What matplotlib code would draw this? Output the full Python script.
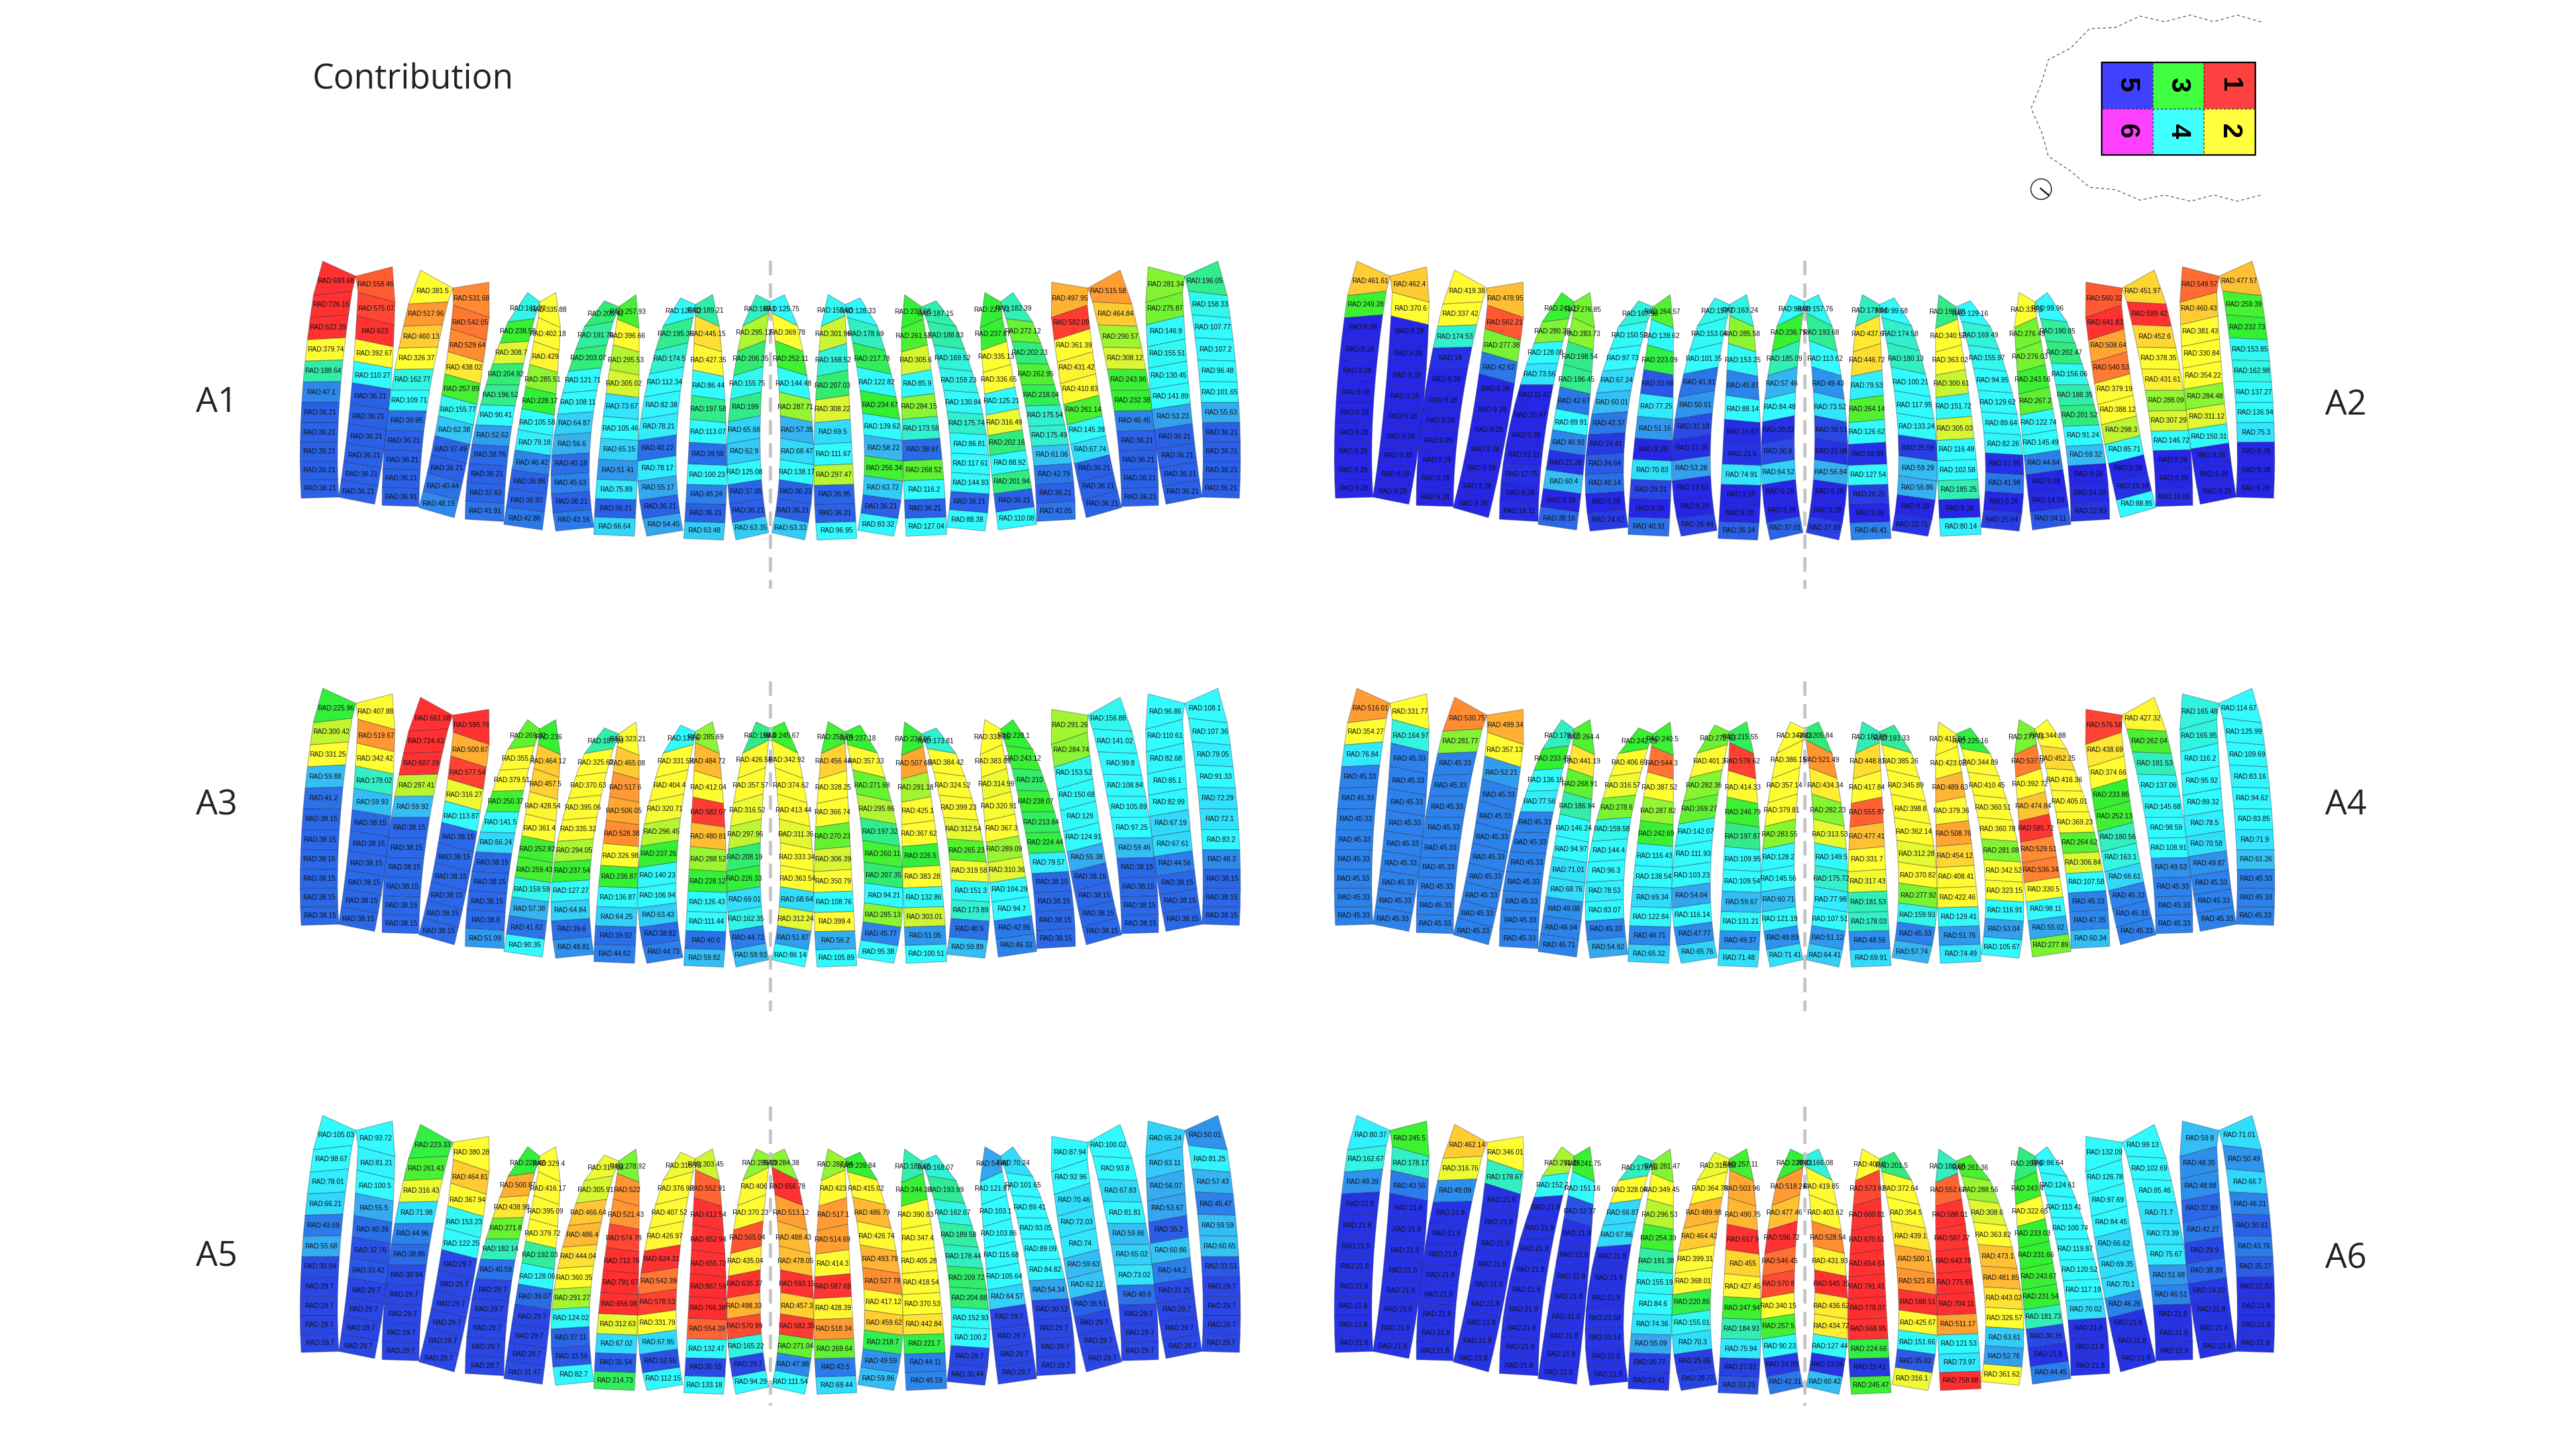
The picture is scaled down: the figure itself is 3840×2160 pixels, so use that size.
import numpy as np
import matplotlib
matplotlib.use("Agg")
import matplotlib.pyplot as plt
from matplotlib.collections import PolyCollection
from matplotlib.colors import LinearSegmentedColormap, Normalize
from matplotlib.patches import Circle, Rectangle

# contact values per tooth, top row to bottom row, tooth 1 to 22
A1 = [
    [693.68, 726.16, 622.39, 379.74, 188.64, 47.1] + [36.21] * 5,
    [558.46, 575.07, 623, 392.67, 110.27] + [36.21] * 6,
    [381.5, 517.96, 460.13, 326.37, 162.77, 109.71, 39.95, 36.21, 36.21, 36.21, 36.91],
    [531.68, 542.05, 529.64, 438.02, 257.89, 155.77, 62.38, 37.49, 36.21, 40.44, 48.19],
    [161.03, 238.58, 308.7, 204.92, 196.52, 90.41, 52.62, 38.76, 36.21, 37.62, 41.91],
    [335.88, 402.18, 429, 285.51, 228.17, 105.58, 79.18, 46.42, 36.86, 36.92, 42.86],
    [206.42, 191.79, 203.07, 121.71, 108.11, 64.87, 56.6, 40.18, 45.63, 36.21, 43.16],
    [257.93, 396.66, 295.53, 305.02, 73.67, 105.46, 65.15, 51.41, 75.89, 36.21, 66.64],
    [126.62, 195.36, 174.5, 112.34, 82.38, 78.21, 40.22, 78.17, 55.17, 36.21, 54.45],
    [189.21, 445.15, 427.35, 86.44, 197.58, 113.07, 39.58, 100.23, 45.24, 36.21, 63.48],
    [180.1, 295.12, 206.35, 155.75, 199, 65.68, 62.9, 125.08, 37.05, 36.21, 63.35],
    [125.75, 369.78, 252.11, 144.48, 287.71, 57.35, 68.47, 138.17, 36.21, 36.21, 63.33],
    [155.93, 301.96, 168.52, 207.03, 308.22, 69.5, 111.67, 297.47, 36.95, 36.21, 96.95],
    [128.33, 178.69, 217.78, 122.82, 234.67, 139.62, 58.22, 256.34, 63.72, 36.21, 83.32],
    [233.68, 261.51, 305.6, 85.9, 284.15, 173.58, 38.97, 268.52, 116.2, 36.21, 127.04],
    [187.15, 188.83, 169.52, 159.23, 130.84, 175.74, 86.81, 117.61, 144.93, 36.21, 88.38],
    [227.71, 237.87, 335.13, 336.65, 125.21, 316.49, 202.16, 88.92, 201.94, 36.21, 110.08],
    [182.39, 272.12, 202.23, 262.95, 218.04, 175.54, 175.49, 61.06, 42.79, 36.21, 42.05],
    [497.95, 582.09, 361.39, 431.42, 410.83, 261.14, 145.39, 67.74, 36.21, 36.21, 36.21],
    [515.58, 464.84, 290.57, 308.12, 243.96, 232.38, 46.45, 36.21, 36.21, 36.21, 36.21],
    [281.34, 275.87, 146.9, 155.51, 130.45, 141.89, 53.23, 36.21, 36.21, 36.21, 36.21],
    [196.05, 158.33, 107.77, 107.2, 96.48, 101.65, 55.63, 36.21, 36.21, 36.21, 36.21],
]
A2 = [
    [461.61, 249.28] + [9.28] * 9,
    [462.4, 370.6] + [9.28] * 9,
    [419.38, 337.42, 174.53, 19] + [9.28] * 7,
    [478.95, 562.21, 277.38, 42.62] + [9.28] * 7,
    [241.17, 280.38, 128.08, 73.56, 11.42, 10.47, 9.28, 12.11, 17.75, 9.28, 16.11],
    [276.85, 283.73, 198.54, 196.45, 42.67, 89.91, 46.92, 21.28, 60.4, 9.28, 38.16],
    [167.98, 150.52, 97.73, 67.24, 60.01, 42.37, 24.41, 34.64, 40.14, 9.28, 24.62],
    [264.57, 139.62, 223.09, 33.68, 77.25, 51.16, 9.28, 70.83, 29.21, 9.28, 40.91],
    [157.7, 153.04, 101.35, 41.91, 50.61, 31.18, 17.35, 53.28, 13.63, 9.28, 26.44],
    [163.24, 285.58, 153.25, 45.87, 88.14, 16.63, 21.6, 74.91, 9.28, 9.28, 36.24],
    [98.98, 236.75, 185.09, 57.46, 84.48, 20.32, 30.8, 64.52, 9.28, 9.28, 37.01],
    [157.76, 193.68, 113.62, 49.43, 73.52, 30.51, 21.08, 56.84, 9.28, 9.28, 27.89],
    [179.04, 437.6, 446.72, 79.53, 264.14, 126.62, 18.99, 127.54, 26.25, 9.28, 46.41],
    [99.68, 174.58, 180.13, 100.21, 117.95, 133.24, 25.59, 59.29, 56.86, 9.28, 22.71],
    [198.88, 340.52, 363.02, 300.61, 151.72, 305.03, 116.49, 102.58, 185.25, 9.28, 80.14],
    [129.16, 169.49, 155.97, 94.95, 129.62, 89.64, 82.26, 17.95, 41.98, 9.28, 25.94],
    [335.3, 276.49, 276.03, 243.56, 267.2, 122.74, 145.49, 44.64, 9.28, 14.59, 34.11],
    [99.96, 190.85, 202.47, 156.06, 188.35, 201.52, 91.24, 59.32, 9.28, 14.23, 22.83],
    [560.32, 641.83, 508.64, 540.53, 379.19, 388.12, 298.3, 85.71, 9.28, 19.18, 88.85],
    [451.97, 599.42, 452.6, 378.35, 431.61, 288.09, 307.29, 146.72, 9.28, 9.28, 18.05],
    [549.57, 460.43, 381.43, 330.84, 354.22, 284.48, 311.12, 150.31, 9.28, 9.28, 9.28],
    [477.57, 259.39, 232.73, 153.85, 162.98, 137.27, 136.94, 75.3, 9.28, 9.28, 9.28],
]
A3 = [
    [225.96, 300.42, 331.25, 59.88, 41.2] + [38.15] * 6,
    [407.88, 519.67, 342.42, 178.02, 59.93] + [38.15] * 6,
    [661.08, 724.43, 607.29, 297.41, 59.92] + [38.15] * 6,
    [595.76, 500.87, 577.54, 316.27, 113.87] + [38.15] * 6,
    [269.42, 355.3, 379.51, 250.37, 141.5, 66.24, 38.15, 38.15, 38.15, 38.8, 51.09],
    [236, 464.12, 457.5, 428.54, 361.4, 252.82, 259.43, 159.59, 57.38, 41.62, 90.35],
    [187.69, 325.67, 370.63, 395.06, 335.32, 294.05, 237.54, 127.27, 64.84, 39.6, 49.81],
    [323.21, 465.08, 517.6, 506.05, 528.38, 326.98, 236.87, 136.87, 64.25, 39.92, 44.62],
    [139.6, 331.53, 404.4, 320.71, 296.45, 237.26, 140.23, 106.94, 63.43, 38.82, 44.73],
    [285.69, 484.72, 412.04, 582.07, 480.81, 288.52, 228.12, 126.43, 111.44, 40.6, 59.82],
    [198.4, 426.58, 357.57, 316.52, 297.96, 208.19, 226.33, 69.01, 162.35, 44.72, 59.93],
    [245.67, 342.92, 374.62, 413.44, 311.36, 333.34, 363.54, 68.64, 312.24, 51.87, 86.14],
    [255.74, 456.44, 328.25, 366.74, 270.23, 306.39, 350.79, 108.76, 399.4, 56.2, 105.89],
    [237.18, 357.33, 271.68, 295.86, 197.32, 260.11, 207.35, 94.21, 285.13, 45.77, 95.38],
    [234.96, 507.69, 291.18, 425.1, 367.62, 226.5, 383.28, 132.86, 303.01, 51.05, 100.51],
    [173.81, 384.42, 324.52, 399.23, 312.54, 265.23, 319.58, 151.3, 173.89, 40.5, 59.89],
    [333.25, 383.09, 314.99, 320.91, 367.3, 289.09, 310.36, 104.29, 94.7, 42.86, 46.32],
    [228.1, 243.12, 210, 238.07, 213.84, 224.44, 79.57, 38.15, 38.15, 38.15, 38.15],
    [291.26, 284.74, 153.52, 150.68, 129, 124.91, 55.38, 38.15, 38.15, 38.15, 38.15],
    [156.88, 141.02, 99.8, 108.84, 105.89, 97.25, 59.46, 38.15, 38.15, 38.15, 38.15],
    [96.86, 110.61, 82.68, 85.1, 82.99, 67.19, 67.61, 44.56, 38.15, 38.15, 38.15],
    [108.1, 107.36, 79.05, 91.33, 72.29, 72.1, 83.2, 48.3, 38.15, 38.15, 38.15],
]
A4 = [
    [516.01, 354.27, 76.84] + [45.33] * 8,
    [331.77, 164.97] + [45.33] * 9,
    [530.75, 281.77] + [45.33] * 9,
    [499.34, 357.13, 52.21] + [45.33] * 8,
    [179.77, 233.49, 136.18, 77.56] + [45.33] * 7,
    [264.4, 441.19, 268.91, 186.94, 146.24, 94.97, 71.01, 68.76, 49.08, 46.04, 45.71],
    [242.29, 406.69, 316.57, 278.6, 159.58, 144.4, 96.3, 78.53, 83.07, 45.33, 54.92],
    [240.5, 544.3, 387.52, 287.82, 242.69, 116.43, 138.54, 69.34, 122.84, 46.71, 65.32],
    [272.63, 401.3, 282.36, 269.27, 142.07, 111.93, 103.23, 54.04, 116.14, 47.77, 65.76],
    [215.55, 578.62, 414.33, 246.79, 197.87, 109.95, 109.54, 59.67, 131.21, 49.37, 71.48],
    [342.83, 386.15, 357.14, 379.81, 283.55, 128.2, 145.56, 60.71, 121.19, 49.89, 71.41],
    [205.84, 521.49, 434.34, 282.23, 313.53, 149.5, 175.72, 77.98, 107.51, 51.12, 64.41],
    [182.89, 448.81, 417.84, 555.87, 477.41, 331.7, 317.43, 181.53, 178.03, 48.56, 69.91],
    [193.33, 385.26, 345.89, 398.8, 362.14, 312.28, 370.82, 277.92, 159.93, 45.33, 57.74],
    [415.64, 423.02, 489.63, 379.36, 508.76, 454.12, 408.41, 422.46, 129.41, 51.76, 74.49],
    [225.16, 344.89, 410.45, 360.51, 360.78, 281.08, 342.52, 323.15, 116.91, 53.04, 105.67],
    [277.75, 537.9, 392.72, 474.84, 585.72, 529.51, 536.34, 330.5, 98.11, 55.02, 277.89],
    [344.88, 452.25, 416.36, 405.01, 369.23, 264.62, 306.84, 107.58, 45.33, 47.35, 60.34],
    [576.58, 438.69, 374.66, 233.86, 252.13, 180.56, 163.1, 66.61, 45.33, 45.33, 45.33],
    [427.32, 262.04, 181.53, 137.06, 145.68, 98.59, 108.91, 49.53, 45.33, 45.33, 45.33],
    [165.48, 165.95, 116.2, 95.92, 89.32, 78.5, 70.58, 49.87, 45.33, 45.33, 45.33],
    [114.67, 125.99, 109.69, 83.16, 94.62, 83.85, 71.9, 61.26, 45.33, 45.33, 45.33],
]
A5 = [
    [105.03, 98.67, 78.01, 66.21, 43.69, 55.68, 30.94, 29.7, 29.7, 29.7, 29.7],
    [93.72, 81.21, 100.5, 55.5, 40.39, 32.76, 33.42, 29.7, 29.7, 29.7, 29.7],
    [223.33, 261.43, 316.43, 71.98, 44.96, 38.86, 30.94, 29.7, 29.7, 29.7, 29.7],
    [380.28, 464.81, 367.94, 153.23, 122.25] + [29.7] * 6,
    [228.46, 500.87, 438.98, 271.8, 182.14, 40.59, 29.7, 29.7, 29.7, 29.7, 29.7],
    [329.4, 416.17, 395.09, 379.72, 192.03, 128.06, 39.07, 29.7, 29.7, 29.7, 31.47],
    [317.08, 305.91, 466.64, 486.4, 444.04, 360.35, 291.27, 124.02, 37.11, 33.56, 82.7],
    [278.92, 522, 521.43, 574.78, 712.76, 791.67, 656.08, 312.63, 67.02, 35.54, 214.73],
    [316.75, 376.92, 407.52, 426.97, 624.31, 542.39, 578.53, 331.79, 67.95, 32.55, 112.15],
    [303.45, 552.91, 612.54, 652.94, 655.72, 867.59, 766.38, 554.39, 132.47, 30.55, 133.18],
    [285.89, 406, 370.23, 565.04, 435.04, 635.37, 498.33, 570.99, 165.22, 29.7, 94.29],
    [284.38, 656.78, 513.12, 488.43, 478.05, 593.15, 457.3, 582.35, 271.04, 47.98, 111.54],
    [287.94, 423, 517.1, 514.69, 414.3, 587.69, 428.39, 518.34, 269.64, 43.5, 69.44],
    [239.84, 415.02, 486.79, 426.74, 493.79, 527.78, 417.12, 459.62, 218.7, 49.59, 59.86],
    [185.65, 244.33, 390.83, 347.4, 405.28, 418.54, 370.53, 442.84, 221.7, 44.11, 46.59],
    [168.07, 193.99, 162.67, 189.58, 178.44, 209.72, 204.88, 152.93, 100.2, 29.7, 30.44],
    [54.48, 121.87, 103.1, 103.86, 115.68, 105.64, 64.57, 29.7, 29.7, 29.7, 29.7],
    [70.24, 101.65, 89.41, 93.05, 89.09, 84.82, 54.34, 30.12, 29.7, 29.7, 29.7],
    [87.94, 92.96, 70.46, 72.03, 74, 59.63, 62.12, 36.51, 29.7, 29.7, 29.7],
    [100.02, 93.8, 67.83, 81.81, 59.86, 65.02, 73.02, 40.6, 29.7, 29.7, 29.7],
    [65.24, 63.11, 56.07, 53.67, 35.2, 60.86, 44.2, 31.25, 29.7, 29.7, 29.7],
    [50.01, 81.25, 57.43, 45.47, 59.59, 60.65, 33.51, 29.7, 29.7, 29.7, 29.7],
]
A6 = [
    [80.37, 162.67, 49.39] + [21.8] * 8,
    [245.5, 178.17, 43.56] + [21.8] * 8,
    [462.14, 316.76, 49.09] + [21.8] * 8,
    [346.01, 178.67] + [21.8] * 9,
    [291.86, 152.7] + [21.8] * 9,
    [241.75, 151.16, 32.37] + [21.8] * 8,
    [179.15, 328.04, 66.87, 67.86, 21.8, 21.8, 21.8, 23.58, 23.14, 21.8, 21.8],
    [281.47, 349.45, 296.53, 254.39, 191.38, 155.19, 84.6, 74.36, 55.09, 26.77, 24.41],
    [316.89, 364.78, 489.98, 464.42, 399.31, 368.01, 220.86, 155.01, 70.3, 25.65, 28.77],
    [257.11, 503.96, 490.75, 617.9, 455, 427.45, 247.94, 184.93, 75.94, 27.03, 33.23],
    [228.83, 518.24, 477.46, 596.72, 546.45, 570.8, 340.15, 257.5, 90.23, 24.99, 42.31],
    [166.08, 419.85, 403.62, 528.54, 431.93, 645.35, 436.62, 434.72, 127.44, 22.56, 60.42],
    [409.6, 573.92, 600.81, 670.51, 654.63, 791.41, 778.07, 668.95, 224.66, 23.41, 245.47],
    [201.5, 372.64, 354.5, 439.1, 500.1, 521.83, 588.51, 425.67, 151.66, 35.02, 316.1],
    [180.68, 552.67, 588.01, 587.37, 643.78, 775.65, 704.11, 511.17, 121.53, 73.97, 758.88],
    [261.36, 288.56, 308.6, 363.82, 473.1, 481.85, 443.02, 326.57, 63.61, 52.76, 361.62],
    [203.9, 243.4, 322.65, 233.03, 231.66, 243.67, 231.54, 181.73, 30.35, 21.8, 44.45],
    [86.64, 124.61, 113.41, 100.74, 119.87, 120.52, 117.19, 70.02, 21.8, 21.8, 21.8],
    [132.09, 126.78, 97.69, 84.45, 66.62, 69.35, 70.1, 46.26, 21.8, 21.8, 21.8],
    [99.13, 102.69, 85.46, 71.7, 73.39, 75.67, 51.68, 46.51, 21.8, 21.8, 21.8],
    [59.8, 48.35, 48.88, 37.89, 42.27, 29.9, 38.39, 24.22, 21.8, 21.8, 21.8],
    [71.01, 50.49, 66.7, 46.21, 36.61, 43.76, 35.27, 22.82, 21.8, 21.8, 21.8],
]
PANEL_NAMES = ["A1", "A2", "A3", "A4", "A5", "A6"]
PANEL_VALUES = [A1, A2, A3, A4, A5, A6]
LEGEND_LABELS = [["5", "3", "1"], ["6", "4", "2"]]
LEGEND_COLORS = [["#4040ff", "#40ff40", "#ff4040"], ["#ff40ff", "#40ffff", "#ffff40"]]

# tooth mesh of the left half, the right half is its mirror image.
# each row: left edge (bottom, middle, knee, tip), right edge (bottom, middle, knee, tip)
MESH_LEFT = [
    [(23, 1118), (25, 690), (62, 212), (92, 58), (143, 1113), (145, 690), (186, 192), (198, 125)],
    [(143, 1113), (180, 695), (205, 197), (198, 125), (258, 1145), (303, 722), (323, 242), (315, 83)],
    [(282, 1150), (302, 726), (367, 250), (405, 98), (400, 1155), (424, 728), (493, 240), (508, 178)],
    [(400, 1160), (462, 750), (510, 255), (508, 178), (513, 1205), (575, 790), (625, 310), (624, 152)],
    [(548, 1212), (582, 790), (685, 330), (748, 198), (672, 1222), (697, 797), (770, 315), (787, 240)],
    [(672, 1235), (718, 812), (782, 310), (787, 240), (795, 1260), (828, 838), (853, 355), (838, 198)],
    [(838, 1265), (833, 835), (930, 350), (994, 235), (960, 1248), (951, 825), (1022, 328), (1040, 262)],
    [(960, 1280), (982, 850), (1035, 318), (1040, 262), (1090, 1288), (1102, 860), (1105, 358), (1095, 208)],
    [(1130, 1288), (1103, 860), (1182, 348), (1238, 222), (1245, 1262), (1225, 835), (1278, 310), (1285, 252)],
    [(1248, 1298), (1265, 868), (1285, 302), (1285, 252), (1375, 1305), (1385, 878), (1362, 350), (1340, 207)],
    [(1415, 1305), (1387, 875), (1437, 348), (1480, 208), (1520, 1272), (1492, 850), (1520, 290), (1527, 240)],
]
CENTER_X = 1525

COLOR_NODES = [
    (0, (38, 38, 230)), (9.3, (38, 38, 230)), (21.8, (38, 52, 228)), (29.7, (42, 72, 228)),
    (38, (42, 105, 232)), (48, (45, 140, 235)), (56, (55, 175, 240)), (66, (50, 215, 250)),
    (85, (50, 250, 255)), (150, (50, 250, 250)), (175, (50, 240, 205)), (200, (50, 235, 130)),
    (230, (50, 240, 50)), (260, (70, 240, 50)), (285, (140, 245, 50)), (305, (215, 245, 50)),
    (325, (255, 255, 50)), (425, (255, 250, 50)), (460, (255, 205, 50)), (500, (255, 175, 50)),
    (530, (255, 140, 50)), (560, (255, 90, 50)), (590, (255, 50, 50)), (900, (255, 45, 45)),
]
vmax = COLOR_NODES[-1][0]
cmap = LinearSegmentedColormap.from_list(
    "contact", [(v / vmax, tuple(c / 255 for c in rgb)) for v, rgb in COLOR_NODES], N=1024
)
norm = Normalize(0, vmax)

W, H = 3840, 2160


def edge_points(bottom, mid, knee, tip):
    # 12 row boundaries along one edge, quadratic through the three lower points
    t = np.arange(11) / 10.0
    pts = []
    for a, b, c in zip(bottom, mid, knee):
        q = a * (2 * t - 1) * (t - 1) + b * 4 * t * (1 - t) + c * t * (2 * t - 1)
        pts.append(q)
    edge = np.column_stack(pts)
    return np.vstack([edge, tip])


def build_teeth():
    teeth = []
    for row in MESH_LEFT:
        left = edge_points(*row[:4])
        right = edge_points(*row[4:])
        teeth.append((left, right))
    for left, right in teeth[::-1]:
        new_left = right * [-1, 1] + [2 * CENTER_X, 0]
        new_right = left * [-1, 1] + [2 * CENTER_X, 0]
        teeth.append((new_left, new_right))
    return teeth


def draw_panel(fig, x0, y0, values, teeth, dash_span):
    # axes 1 unit = the mesh units above (2.148 per px across, 3 per px down)
    ax = fig.add_axes([x0 / W, 1 - (y0 + 450) / H, 1450 / W, 450 / H])
    ax.set_xlim(0, 1450 * 2.148)
    ax.set_ylim(1350, 0)
    ax.axis("off")

    polys, vals, labels = [], [], []
    for tooth, col in zip(teeth, values):
        assert len(col) == 11
        left, right = tooth
        for r, v in enumerate(col):
            i = 10 - r
            polys.append([left[i], right[i], right[i + 1], left[i + 1]])
            vals.append(v)
            labels.append(f"RAD:{v:g}")
    cells = PolyCollection(polys, array=np.array(vals), cmap=cmap, norm=norm,
                           edgecolors=(0.1, 0.1, 0.2, 0.35), linewidths=0.8, zorder=2)
    ax.add_collection(cells)
    ax.plot([CENTER_X, CENTER_X], dash_span, color="#c4c4c4", lw=3.4,
            dashes=(4.6, 2.6), clip_on=False, zorder=3)
    for poly, label in zip(polys, labels):
        cx, cy = np.mean(poly, axis=0)
        ax.text(cx, cy, label, ha="center", va="center", fontsize=7.2,
                family="Liberation Sans", color="#101018", zorder=4, clip_on=False)


def draw_key(ax):
    xs = [3132.7, 3209, 3285, 3361.7]
    ys = [93, 162, 231]
    for r in range(2):
        for c in range(3):
            ax.add_patch(Rectangle((xs[c], ys[r]), xs[c + 1] - xs[c], ys[r + 1] - ys[r],
                                   facecolor=LEGEND_COLORS[r][c], edgecolor="none"))
            ax.text((xs[c] + xs[c + 1]) / 2, (ys[r] + ys[r + 1]) / 2 - 1, LEGEND_LABELS[r][c],
                    rotation=-90, ha="center", va="center", fontsize=29,
                    family="Liberation Sans", weight="bold", color="black")
    ax.plot([xs[1], xs[1]], [ys[0], ys[2]], color="#333333", lw=0.9, ls=(0, (3, 2)))
    ax.plot([xs[2], xs[2]], [ys[0], ys[2]], color="#333333", lw=0.9, ls=(0, (3, 2)))
    ax.plot([xs[0], xs[3]], [ys[1], ys[1]], color="#333333", lw=0.9, ls=(0, (3, 2)))
    ax.add_patch(Rectangle((xs[0], ys[0]), xs[3] - xs[0], ys[2] - ys[0],
                           fill=False, edgecolor="black", lw=1.6))

    outline_x = [1172, 1065, 960, 855, 740, 630, 520, 405, 320, 220, 190, 143, 190, 220, 320,
                 405, 520, 630, 740, 855, 960, 1065, 1172]
    outline_y = [98, 67, 97, 67, 97, 72, 123, 128, 215, 267, 370, 485, 590, 698, 765,
                 838, 848, 895, 872, 900, 872, 900, 872]
    ax.plot(2980 + np.array(outline_x) / 3, np.array(outline_y) / 3, color="#444444",
            lw=0.8, ls=(0, (4, 3.5)))
    ax.add_patch(Circle((3042.7, 282), 15.3, fill=False, edgecolor="#222222", lw=1.1))
    ax.plot([3042, 3054], [281, 291], color="#222222", lw=1.8)


def main():
    fig = plt.figure(figsize=(W / 100, H / 100), dpi=100, facecolor="white")
    teeth = build_teeth()

    over = fig.add_axes([0, 0, 1, 1])
    over.set_xlim(0, W)
    over.set_ylim(H, 0)
    over.axis("off")

    origins = [(438.3, 370), (1980, 370), (438.3, 1006.7), (1980, 1006.7), (438.3, 1643.4), (1980, 1643.4)]
    name_pos = [(323, 600), (3497, 604), (323, 1201), (3497, 1201), (323, 1873), (3497, 1877)]
    dash_spans = [(55, 1520), (55, 1520), (24, 1500), (24, 1500), (18, 1356), (18, 1356)]
    for name, vals, (x0, y0), (nx, ny), span in zip(PANEL_NAMES, PANEL_VALUES, origins, name_pos, dash_spans):
        draw_panel(fig, x0, y0, vals, teeth, span)
        over.text(nx, ny, name, ha="center", va="center", fontsize=37, family="Open Sans", color="#222222")

    over.text(466, 118, "Contribution", ha="left", va="center", fontsize=36.5, family="Open Sans", color="#222222")
    draw_key(over)

    fig.savefig("out.png", dpi=100)


if __name__ == "__main__":
    main()
